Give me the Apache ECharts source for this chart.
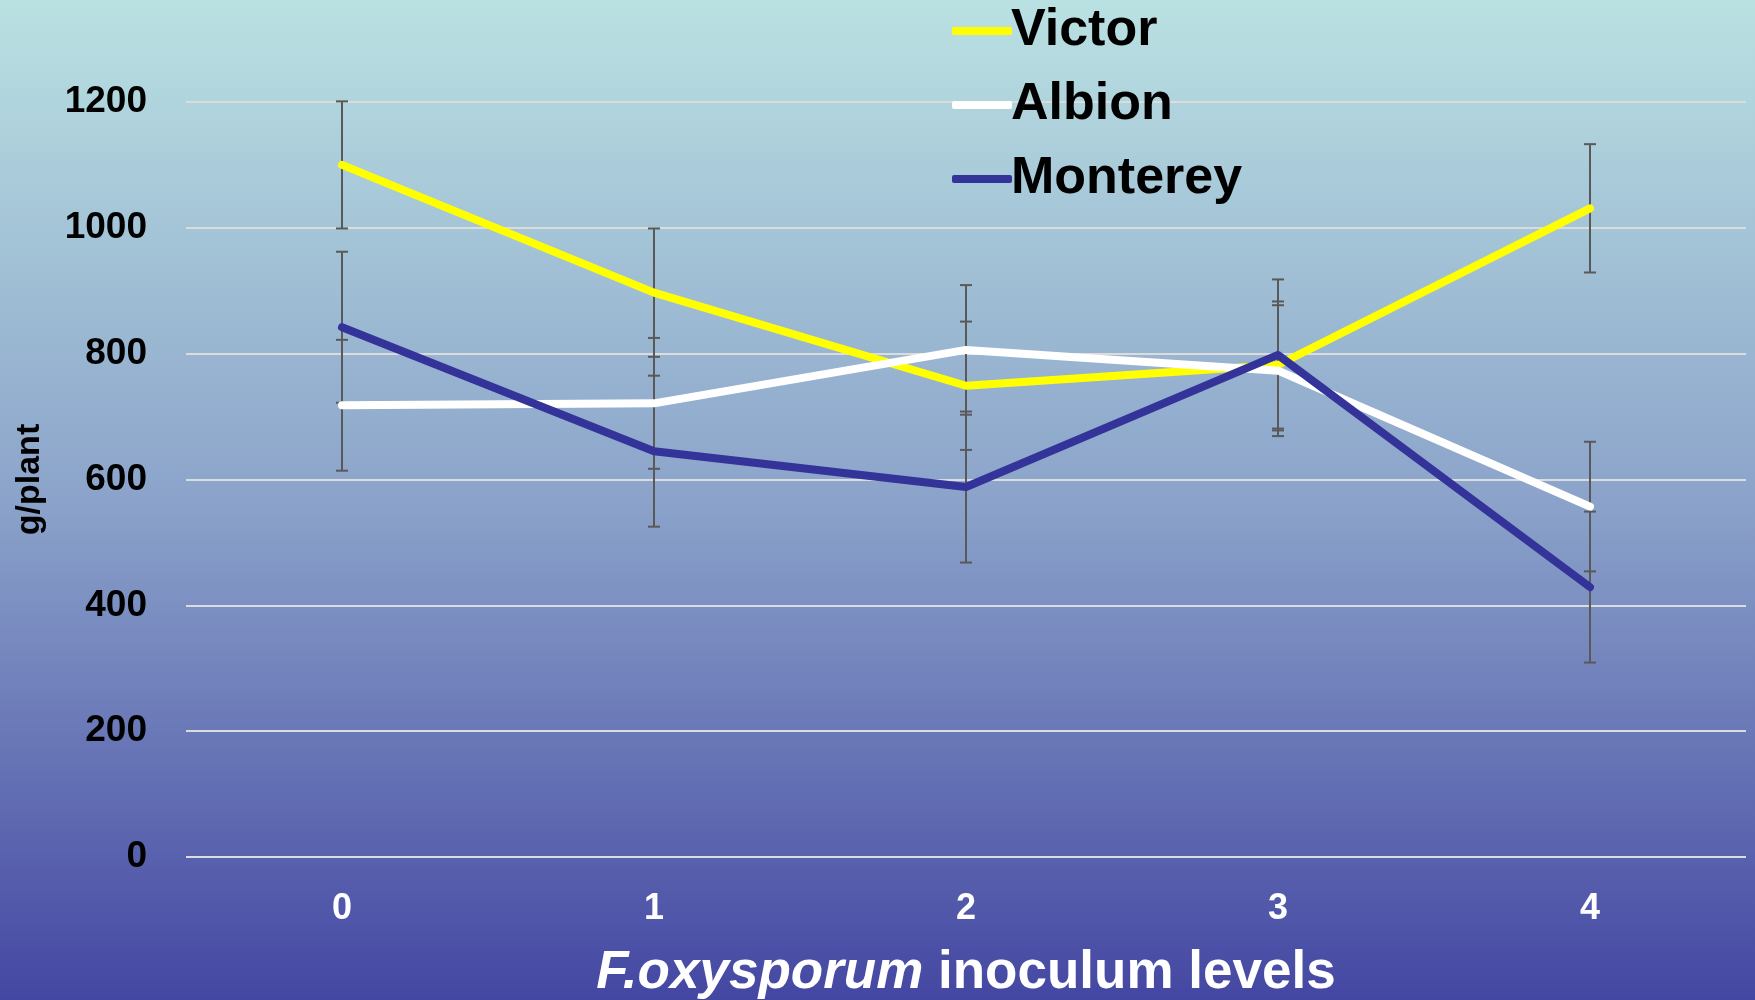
<!DOCTYPE html>
<html>
<head>
<meta charset="utf-8">
<script src="https://cdn.jsdelivr.net/npm/echarts@6/dist/echarts.min.js"></script>
<style>
    html, body { margin: 0; padding: 0; }
    #chart { width: 1755px; height: 1000px; }
</style>
</head>
<body>
<div id="chart"></div>
<script>
// 接种水平
var levels = ['0', '1', '2', '3', '4'];
var seriesNames = ['Victor', 'Albion', 'Monterey'];

// 平均值 g/plant
var victor = [1100, 897, 749, 782, 1031];
var albion = [718, 721, 806, 773, 557];
var monterey = [842, 645, 588, 798, 429];

// 误差
var victorErr = [101, 102, 102, 101, 102];
var albionErr = [104, 104, 103, 104, 103];
var montereyErr = [120, 120, 120, 120, 120];

var yTicks = [0, 200, 400, 600, 800, 1000, 1200];

var lineColor = ['#ffff00', '#ffffff', '#333399'];
var fontFamily = 'Arial, "Liberation Sans", sans-serif';

function errRows(vals, errs) {
    var rows = [];
    for (var i = 0; i < vals.length; i++) {
        rows.push([i, vals[i] - errs[i], vals[i] + errs[i]]);
    }
    return rows;
}
var errData = errRows(victor, victorErr).concat(errRows(albion, albionErr), errRows(monterey, montereyErr));

function renderErr(params, api) {
    var x = api.value(0);
    var lo = api.coord([x, api.value(1)]);
    var hi = api.coord([x, api.value(2)]);
    var w = 6;
    var style = { stroke: '#595959', lineWidth: 2 };
    return {
        type: 'group',
        children: [
            { type: 'line', shape: { x1: hi[0], y1: hi[1], x2: lo[0], y2: lo[1] }, style: style },
            { type: 'line', shape: { x1: hi[0] - w, y1: hi[1], x2: hi[0] + w, y2: hi[1] }, style: style },
            { type: 'line', shape: { x1: lo[0] - w, y1: lo[1], x2: lo[0] + w, y2: lo[1] }, style: style }
        ]
    };
}

function lineSeries(name, data, idx) {
    return {
        name: name,
        type: 'line',
        data: data,
        symbol: 'none',
        z: 3 + idx,
        lineStyle: {
            color: lineColor[idx],
            width: 8,
            cap: 'round',
            join: 'round'
        },
        itemStyle: { color: lineColor[idx] }
    };
}

var myChart = echarts.init(document.getElementById('chart'));
var option = {
    animation: false,
    backgroundColor: new echarts.graphic.LinearGradient(0, 0, 0, 1, [
        { offset: 0, color: '#bae1e2' },
        { offset: 0.5, color: '#8ba3ca' },
        { offset: 1, color: '#4447a2' }
    ]),
    grid: {
        left: 186,
        right: 9,
        top: 102,
        bottom: 143,
        containLabel: false,
        outerBoundsMode: 'none'
    },
    legend: {
        orient: 'vertical',
        left: 947,
        top: 0,
        itemWidth: 60,
        itemHeight: 8,
        itemGap: 22,
        icon: 'roundRect',
        data: seriesNames,
        textStyle: {
            fontSize: 52,
            fontWeight: 'bold',
            color: '#000',
            fontFamily: fontFamily,
            padding: [0, 0, 0, -6]
        }
    },
    xAxis: {
        type: 'category',
        data: levels,
        boundaryGap: true,
        name: '{i|F.oxysporum} inoculum levels',
        nameLocation: 'middle',
        nameGap: 90,
        nameTextStyle: {
            color: '#fff',
            fontSize: 53,
            fontWeight: 'bold',
            fontFamily: fontFamily,
            rich: {
                i: {
                    color: '#fff',
                    fontSize: 53,
                    fontWeight: 'bold',
                    fontStyle: 'italic',
                    fontFamily: fontFamily
                }
            }
        },
        axisLine: { show: false },
        axisTick: { show: false },
        axisLabel: {
            color: '#fff',
            fontSize: 36,
            fontWeight: 'bold',
            fontFamily: fontFamily,
            margin: 34
        }
    },
    yAxis: {
        type: 'value',
        min: yTicks[0],
        max: yTicks[yTicks.length - 1],
        interval: 200,
        name: 'g/plant',
        nameLocation: 'middle',
        nameRotate: 90,
        nameGap: 139,
        nameTextStyle: {
            color: '#000',
            fontSize: 34,
            fontWeight: 'bold',
            fontFamily: fontFamily
        },
        axisLine: { show: false },
        axisTick: { show: false },
        axisLabel: {
            color: '#000',
            fontSize: 37,
            fontWeight: 'bold',
            fontFamily: fontFamily,
            margin: 39,
            formatter: function (v) { return String(v); }
        },
        splitLine: {
            show: true,
            lineStyle: {
                color: '#dcdcdc',
                width: 2
            }
        }
    },
    series: [
        {
            type: 'custom',
            name: 'err',
            renderItem: renderErr,
            data: errData,
            z: 2,
            encode: { x: 0, y: [1, 2] }
        },
        lineSeries('Victor', victor, 0),
        lineSeries('Albion', albion, 1),
        lineSeries('Monterey', monterey, 2)
    ]
};
myChart.setOption(option);
</script>
</body>
</html>
